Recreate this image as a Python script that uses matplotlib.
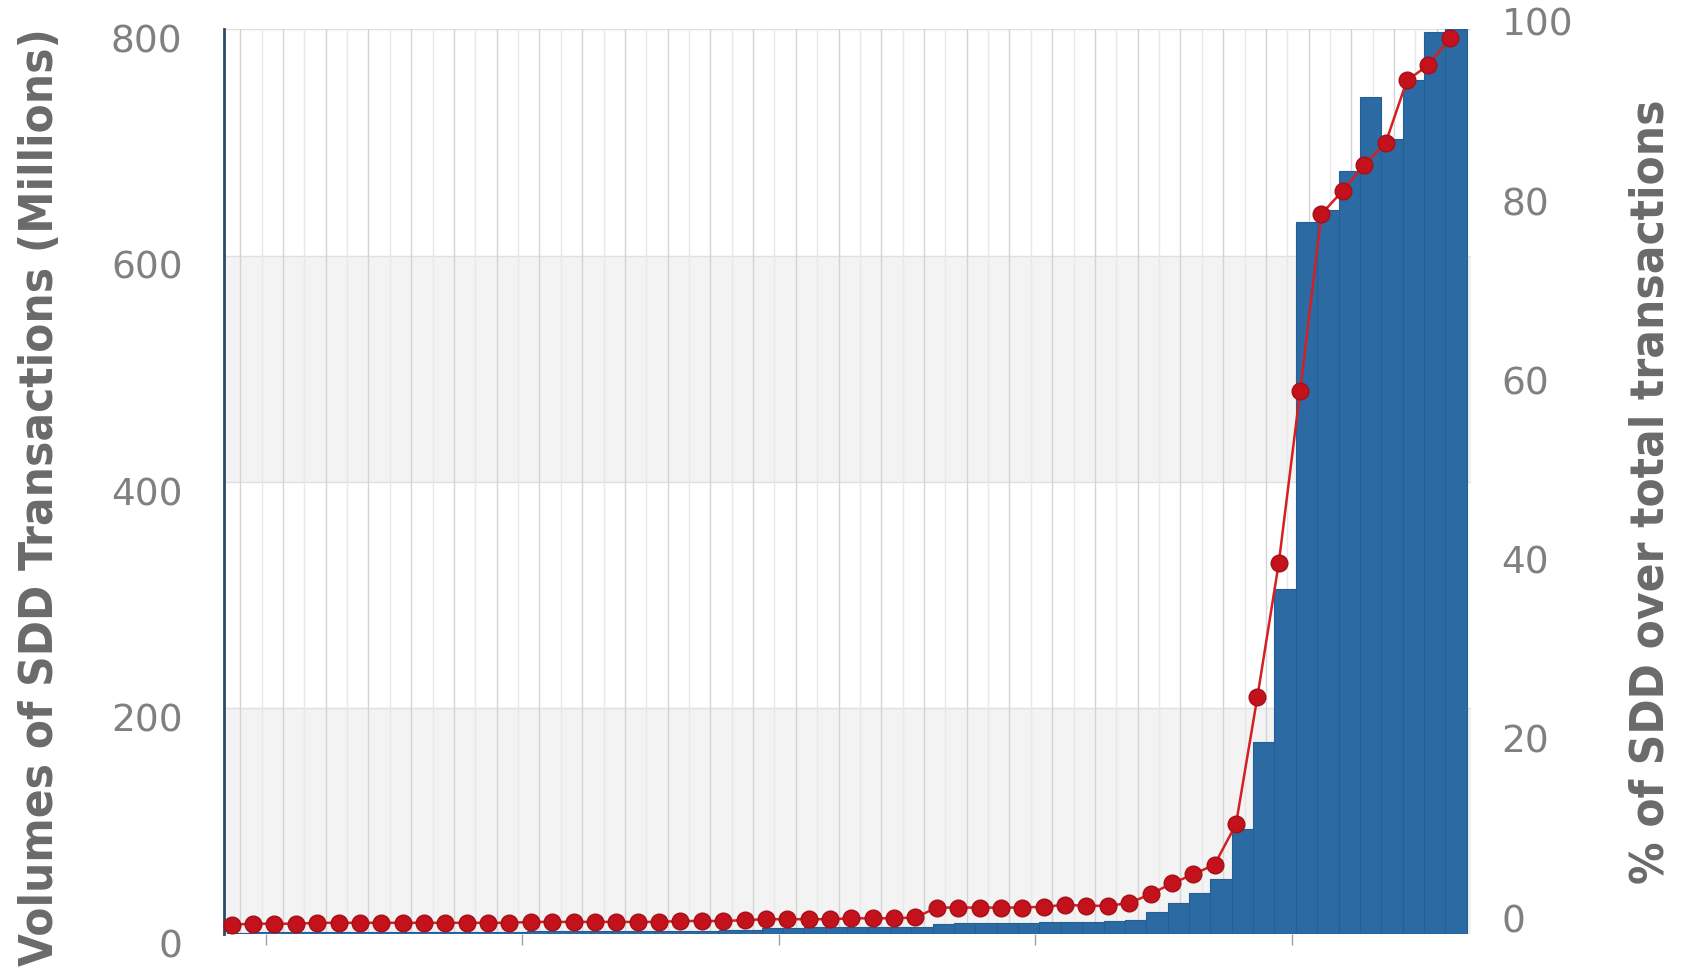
import numpy as np
import matplotlib
matplotlib.use('Agg')
import matplotlib.pyplot as plt
import matplotlib.transforms as mtransforms

# volumes of SDD transactions per country (millions), sorted by share
volumes = [1, 2, 2, 2, 2, 2, 2, 2, 2, 2,
           2, 2, 2, 2, 3, 3, 3, 3, 3, 3,
           3, 3, 3, 4, 4, 6, 6, 7, 7, 7,
           7, 7, 7, 9, 10, 10, 10, 10, 11, 11,
           11, 12, 13, 20, 28, 37, 49, 93, 170, 305,
           630, 640, 675, 740, 703, 755, 798, 800]

# share of SDD over total transactions (%)
shares = [0.1, 0.2, 0.2, 0.2, 0.3, 0.3, 0.3, 0.3, 0.3, 0.3,
          0.3, 0.3, 0.3, 0.3, 0.4, 0.4, 0.4, 0.4, 0.4, 0.4,
          0.4, 0.5, 0.5, 0.5, 0.6, 0.7, 0.7, 0.7, 0.7, 0.8,
          0.8, 0.8, 0.9, 2.0, 2.0, 2.0, 2.0, 2.0, 2.1, 2.3,
          2.2, 2.2, 2.5, 3.5, 4.7, 5.7, 6.8, 11.3, 25.5, 40.4,
          59.6, 79.4, 82.0, 84.9, 87.3, 94.3, 96.0, 99.0]

left_ticks = [0, 200, 400, 600, 800]
right_ticks = [0, 20, 40, 60, 80, 100]

x = np.arange(len(volumes))
grey = '#808080'

fig = plt.figure(figsize=(16.86, 9.78), dpi=100)
ax = fig.add_axes([0.133, 0.0435, 0.7395, 0.9255])

# banded background
ax.axhspan(0, 200, color='#f3f3f3', zorder=0, lw=0)
ax.axhspan(400, 600, color='#f3f3f3', zorder=0, lw=0)
for yy in left_ticks[1:]:
    ax.axhline(yy, color='#e0e0e0', lw=1, zorder=0.5)
for xx in np.arange(0.4, len(volumes), 1.0):
    c = '#d4d4d4' if int(xx) % 2 == 0 else '#e8e8e8'
    ax.axvline(xx, color=c, lw=1, zorder=0.5)

ax.bar(x + 0.3, volumes, width=1.0, color='#2c6aa4', edgecolor='#275e93',
       linewidth=0.8, zorder=2)

ax.set_xlim(-0.35, 58.0)
ax.set_ylim(0, 800)
ax.set_yticks(left_ticks)
ax.set_xticks([1.6, 13.6, 25.6, 37.6, 49.6])
ax.set_xticklabels([])
ax.tick_params(axis='x', length=8, color='#a0a0a0', width=1)
ax.tick_params(axis='y', length=0, pad=30, labelsize=27, labelcolor=grey)
for s in ['top', 'right', 'bottom']:
    ax.spines[s].set_visible(False)
ax.spines['left'].set_color('#2b4a66')
ax.spines['left'].set_linewidth(2)
for lab in ax.get_yticklabels():
    lab.set_transform(lab.get_transform() +
                      mtransforms.ScaledTranslation(0, -6 / 72, fig.dpi_scale_trans))

ax2 = ax.twinx()
ax2.plot(x, shares, color='#d42020', lw=1.8, marker='o', markersize=12,
         markerfacecolor='#c3121c', markeredgecolor='#a50f18', zorder=3, clip_on=False)
ax2.set_ylim(-1, 100)
ax2.set_yticks(right_ticks)
ax2.tick_params(axis='y', length=0, pad=22, labelsize=27, labelcolor=grey)
for s in ['top', 'right', 'bottom', 'left']:
    ax2.spines[s].set_visible(False)
for lab in ax2.get_yticklabels():
    lab.set_transform(lab.get_transform() +
                      mtransforms.ScaledTranslation(0, 6 / 72, fig.dpi_scale_trans))

fig.text(0.024, 0.492, 'Volumes of SDD Transactions (Millions)', rotation=90,
         ha='center', va='center', fontsize=34, fontweight='bold', color='#6a6a6a',
         fontstretch='condensed')
fig.text(0.979, 0.497, '% of SDD over total transactions', rotation=90,
         ha='center', va='center', fontsize=34, fontweight='bold', color='#6a6a6a',
         fontstretch='condensed')

fig.savefig('out.png', dpi=100)
